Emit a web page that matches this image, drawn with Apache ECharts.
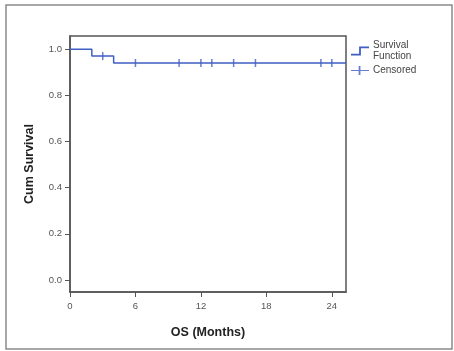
<!DOCTYPE html>
<html>
<head>
<meta charset="utf-8">
<script src="https://cdn.jsdelivr.net/npm/echarts@6/dist/echarts.min.js"></script>
<style>
  html, body {margin: 0; padding: 0; background: #fff;}
  #chart {width: 454px; height: 351px;}
</style>
</head>
<body>
<div id="chart"></div>
<script>
// Kaplan-Meier step points (months, cumulative survival)
const survivalTimes = [0, 2, 4, 25.3];
const survivalValues = [1.0, 0.97, 0.94, 0.94];
// censored observations
const censorTimes = [3, 6, 10, 12, 13, 15, 17, 23, 24];
const censorValues = [0.97, 0.94, 0.94, 0.94, 0.94, 0.94, 0.94, 0.94, 0.94];
const xTicks = [0, 6, 12, 18, 24];
const yTicks = [0, 0.2, 0.4, 0.6, 0.8, 1.0];

const blue = '#3f5fc4';
const font = 'Liberation Sans, Arial, sans-serif';

const chart = echarts.init(document.getElementById('chart'));
chart.setOption({
  animation: false,
  graphic: [{
    type: 'rect',
    shape: {x: 6, y: 5, width: 446, height: 344},
    style: {fill: 'none', stroke: '#8a8a8a', lineWidth: 1.5}
  }],
  grid: {
    left: 70, right: 108, top: 36, bottom: 59,
    show: true, borderColor: '#555', borderWidth: 1.5, backgroundColor: '#fff'
  },
  legend: {
    orient: 'vertical',
    left: 346, top: 35,
    itemWidth: 20, itemHeight: 9, itemGap: 3,
    textStyle: {color: '#444', fontSize: 10, fontFamily: font, lineHeight: 11, padding: [0, 0, 0, -2]},
    data: [
      {name: 'Survival\nFunction', icon: 'path://M0,8 L9,8 L9,0 L20,0 L20,2 L11,2 L11,10 L0,10 Z'},
      {name: 'Censored', icon: 'path://M0,4.5 L8.5,4.5 L8.5,0 L10.5,0 L10.5,4.5 L20,4.5 L20,5.5 L10.5,5.5 L10.5,10 L8.5,10 L8.5,5.5 L0,5.5 Z'}
    ]
  },
  xAxis: {
    type: 'value', min: 0, max: 25.3,
    name: 'OS (Months)', nameLocation: 'middle', nameGap: 34,
    nameTextStyle: {color: '#222', fontSize: 12.5, fontWeight: 'bold', fontFamily: font},
    splitLine: {show: false},
    axisLine: {onZero: false, lineStyle: {color: '#555', width: 1.5}},
    axisTick: {length: 5, lineStyle: {color: '#555'}, customValues: xTicks},
    axisLabel: {color: '#555', fontSize: 9.5, fontFamily: font, margin: 9, customValues: xTicks}
  },
  yAxis: {
    type: 'value', min: -0.052, max: 1.057,
    name: 'Cum Survival', nameLocation: 'middle', nameRotate: 90, nameGap: 34,
    nameTextStyle: {color: '#222', fontSize: 12.5, fontWeight: 'bold', fontFamily: font},
    splitLine: {show: false},
    axisLine: {onZero: false, lineStyle: {color: '#555', width: 1.5}},
    axisTick: {length: 5, lineStyle: {color: '#555'}, customValues: yTicks},
    axisLabel: {
      color: '#555', fontSize: 9.5, fontFamily: font, margin: 8, customValues: yTicks,
      formatter: v => v.toFixed(1)
    }
  },
  series: [
    {
      name: 'Survival\nFunction', type: 'line', step: 'end', showSymbol: false,
      itemStyle: {color: blue},
      lineStyle: {color: blue, width: 1.5},
      data: survivalTimes.map((t, i) => [t, survivalValues[i]])
    },
    {
      name: 'Censored', type: 'scatter', symbol: 'rect', symbolSize: [1.5, 8],
      itemStyle: {color: blue},
      data: censorTimes.map((t, i) => [t, censorValues[i]])
    }
  ]
});
</script>
</body>
</html>
